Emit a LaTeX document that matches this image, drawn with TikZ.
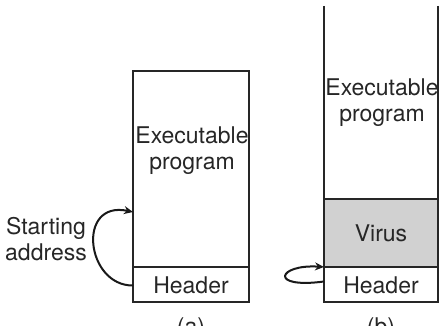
\documentclass[tikz,border=0pt]{standalone}
\usepackage{fontspec}
\setmainfont{TeX Gyre Heros}
\usetikzlibrary{arrows.meta}
\begin{document}
\begin{tikzpicture}[x=1pt,y=-1pt,
  seg/.style={draw=black!85, line width=1.6pt, inner sep=0pt, outer sep=0pt, minimum width=116pt},
  lbl/.style={font=\fontsize{23}{26}\selectfont, text=black!85, align=center, inner sep=0pt},
  jump/.style={draw=black!90, line width=2pt, -{Stealth[length=9pt,width=8pt]}}]
\useasboundingbox (0,0) rectangle (440,326);

% (a) clean program: executable part above the header
\node[seg, minimum height=196pt] (progA) at (191,169) {};
\node[seg, minimum height=35pt] (hdrA) at (191,284.5) {};
\node[lbl] (txtA) at (192,151) {Executable\\program};
\node[lbl] (hA) at (191,285) {Header};
\node[lbl] (capA) at (191,329) {(a)};

% (b) infected program: virus inserted between header and code
\node[inner sep=0pt, outer sep=0pt, minimum width=114pt, minimum height=193pt] (progB) at (381,102.5) {};
\node[seg, minimum width=114pt, minimum height=68pt, fill=black!18] (virB) at (381,233) {};
\node[seg, minimum width=114pt, minimum height=35pt] (hdrB) at (381,284.5) {};
\draw[black!85, line width=1.6pt] (progB.north west) -- (progB.south west)
      (progB.north east) -- (progB.south east);
\node[lbl] (txtB) at (382,103) {Executable\\program};
\node[lbl] (vB) at (381,233) {Virus};
\node[lbl] (hB) at (381,285) {Header};
\node[lbl] (capB) at (381,329) {(b)};

% starting-address jumps
\node[lbl] (start) at (46,239) {Starting\\address};
\coordinate (a0) at ([yshift=-1pt]hdrA.west);
\coordinate (a1) at ([yshift=55pt]progA.south west);
\draw[jump] (a0) .. controls (86,286) and (76,200) .. (a1);
\coordinate (b0) at ([yshift=3pt]hdrB.west);
\draw[jump] (b0) .. controls (268,289) and (278,264) .. (hdrB.north west);
\end{tikzpicture}
\end{document}
